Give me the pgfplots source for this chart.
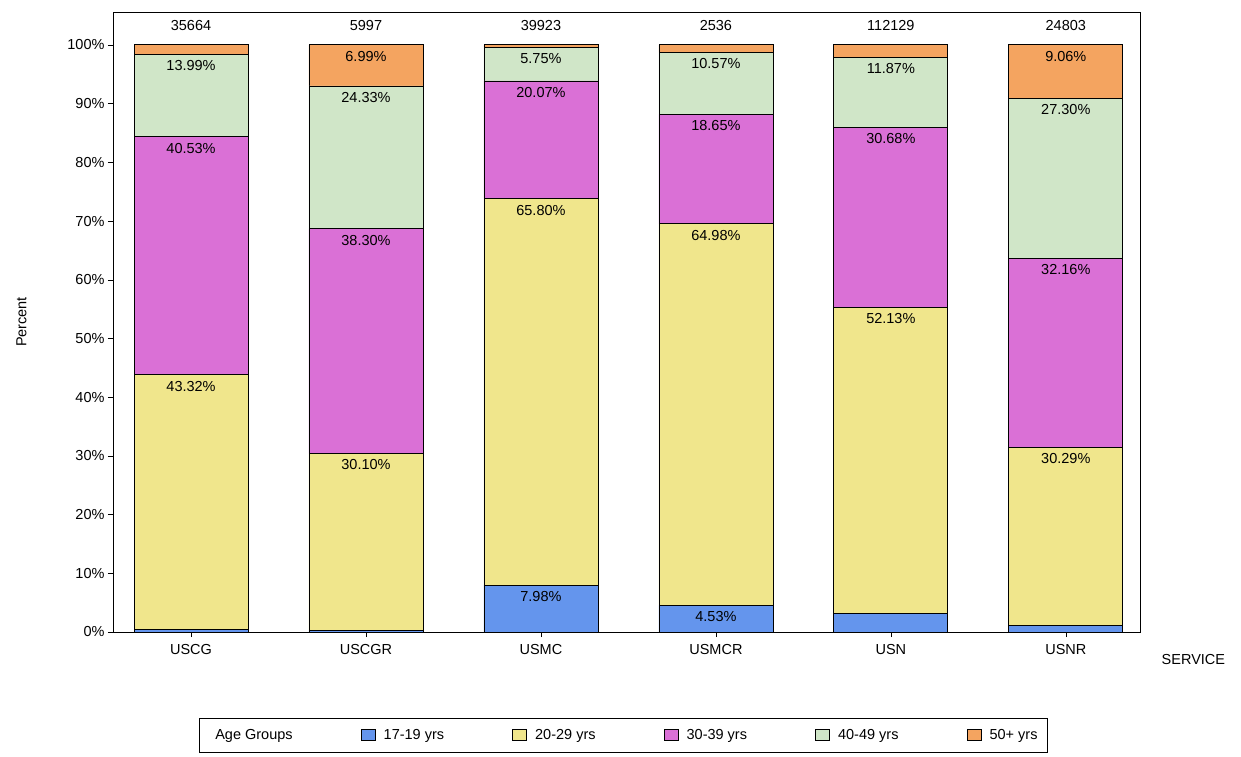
\documentclass[border=0pt]{standalone}
\usepackage{pgfplots}
\pgfplotsset{compat=1.18}
\usepackage{fontspec}
\setmainfont{Liberation Sans}
\definecolor{cA}{RGB}{100,149,237}
\definecolor{cB}{RGB}{240,230,140}
\definecolor{cC}{RGB}{218,112,214}
\definecolor{cD}{RGB}{208,230,200}
\definecolor{cE}{RGB}{244,164,96}
\newcommand{\fs}{\fontsize{14.5}{17}\selectfont}
\newcommand{\labs}{0/43.82/43.32,0/84.35/40.53,0/98.34/13.99,
  1/30.38/30.10,1/68.68/38.30,1/93.01/24.33,1/100/6.99,
  2/7.98/7.98,2/73.78/65.80,2/93.85/20.07,2/99.6/5.75,
  3/4.53/4.53,3/69.51/64.98,3/88.16/18.65,3/98.73/10.57,
  4/55.33/52.13,4/86.01/30.68,4/97.88/11.87,
  5/31.48/30.29,5/63.64/32.16,5/90.94/27.30,5/100/9.06}
\begin{document}
\begin{tikzpicture}
\path[use as bounding box] (-113pt,-124pt) rectangle (1128pt,632pt);
\begin{axis}[
  at={(0,0)}, anchor=south west,
  scale only axis, width=1027pt, height=620pt,
  ybar stacked, bar width=114pt,
  xmin=-0.446, xmax=5.424, ymin=0, ymax=105.6,
  xtick={0,1,2,3,4,5},
  xticklabels={USCG,USCGR,USMC,USMCR,USN,USNR},
  ytick={0,10,...,100},
  yticklabel={\pgfmathprintnumber{\tick}\%},
  /pgf/number format/assume math mode=true,
  ylabel={Percent},
  ylabel style={yshift=34pt},
  tick label style={font=\fs},
  label style={font=\fs},
  xticklabel style={yshift=-4pt},
  tick align=outside, xtick pos=bottom, ytick pos=left,
  xtick style={draw=black}, ytick style={draw=black},
  major tick length=5pt,
  every axis plot/.append style={draw=black, line width=0.8pt},
  legend columns=6,
  legend style={at={(0.497,-0.139)}, anchor=north, font=\fs, draw=black,
    inner xsep=8pt, inner ysep=9pt,
    /tikz/every odd column/.append style={column sep=6pt},
    /tikz/every even column/.append style={column sep=66pt}},
  legend image code/.code={\draw[#1, draw=black] (0cm,-0.2cm) rectangle (0.5cm,0.2cm);},
  clip=false,
]
\addlegendimage{empty legend}
\addlegendentry{Age Groups}
\addplot[fill=cA] coordinates {(0,0.5) (1,0.28) (2,7.98) (3,4.53) (4,3.2) (5,1.19)};
\addlegendentry{17-19 yrs}
\addplot[fill=cB] coordinates {(0,43.32) (1,30.10) (2,65.80) (3,64.98) (4,52.13) (5,30.29)};
\addlegendentry{20-29 yrs}
\addplot[fill=cC] coordinates {(0,40.53) (1,38.30) (2,20.07) (3,18.65) (4,30.68) (5,32.16)};
\addlegendentry{30-39 yrs}
\addplot[fill=cD] coordinates {(0,13.99) (1,24.33) (2,5.75) (3,10.57) (4,11.87) (5,27.30)};
\addlegendentry{40-49 yrs}
\addplot[fill=cE] coordinates {(0,1.66) (1,6.99) (2,0.40) (3,1.27) (4,2.12) (5,9.06)};
\addlegendentry{50+ yrs}
\foreach \i/\t in {0/35664,1/5997,2/39923,3/2536,4/112129,5/24803}{
  \edef\tmp{\noexpand\node[font=\noexpand\fs] at (axis cs:\i,103.3) {\t};}
  \tmp
}
\foreach \i/\yy/\t [count=\n] in \labs {
  \edef\tmp{\noexpand\coordinate (L\n) at (axis cs:\i,\yy);}
  \tmp
}
\node[font=\fs] at (rel axis cs:1.052,-0.045) {SERVICE};
\end{axis}
\foreach \i/\yy/\t [count=\n] in \labs {
  \node[font=\fs, anchor=north, inner sep=2pt, yshift=-4pt] at (L\n) {\t\%};
}
\end{tikzpicture}
\end{document}
